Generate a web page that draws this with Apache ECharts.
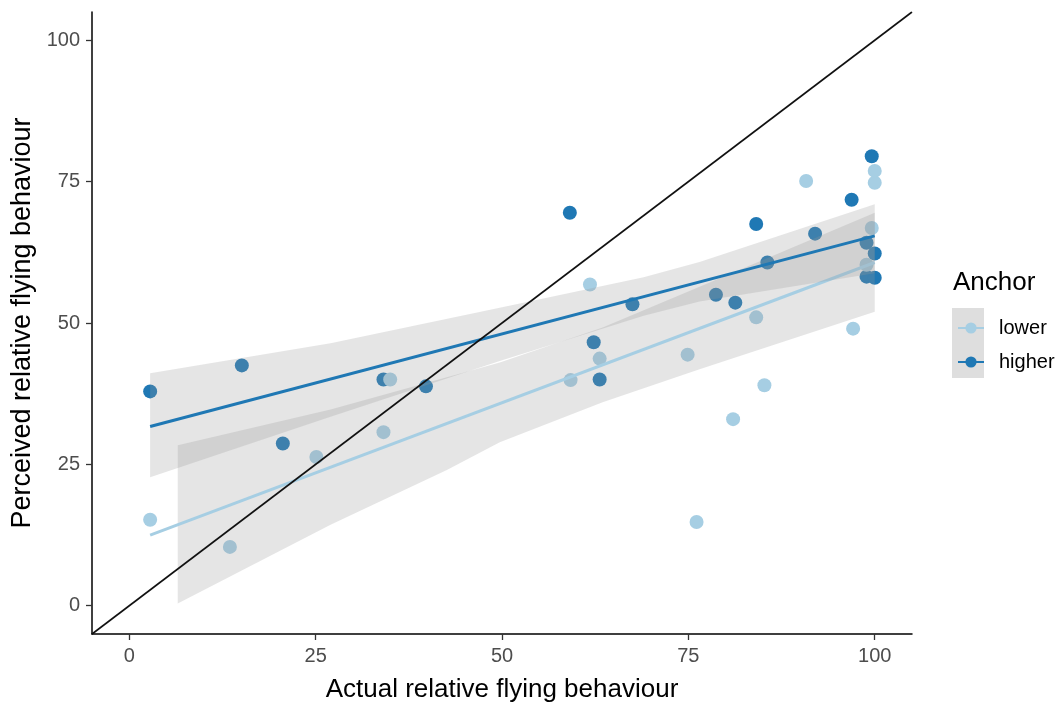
<!DOCTYPE html>
<html>
<head>
<meta charset="utf-8">
<script src="https://cdn.jsdelivr.net/npm/echarts@6/dist/echarts.min.js"></script>
<style>html,body{margin:0;padding:0;background:#fff}#c{width:1057px;height:706px}</style>
</head>
<body>
<div id="c"></div>
<script>
// ---- data ----
const tickValues = [0, 25, 50, 75, 100];
const groups = ['lower', 'higher'];

const lowerX = [2.8, 13.5, 25.1, 34.1, 35.0, 59.2, 61.8, 63.1, 74.9, 76.1, 81.0, 84.1, 85.2, 90.8, 97.1, 99.6, 100, 100, 98.9];
const lowerY = [15.2, 10.4, 26.3, 30.7, 40.0, 39.9, 56.8, 43.7, 44.4, 14.8, 33.0, 51.0, 39.0, 75.1, 49.0, 66.8, 76.9, 74.8, 60.3];

const higherX = [2.8, 15.1, 20.6, 34.1, 39.8, 59.1, 62.3, 63.1, 67.5, 78.7, 81.3, 84.1, 85.6, 92.0, 96.9, 98.9, 98.9, 99.6, 100, 100];
const higherY = [37.9, 42.5, 28.7, 40.0, 38.8, 69.5, 46.6, 40.0, 53.3, 55.0, 53.6, 67.5, 60.7, 65.8, 71.8, 64.2, 58.2, 79.5, 62.3, 58.0];

// fitted lines (endpoints)
const lowerFitX = [2.8, 100];
const lowerFitY = [12.5, 60.7];
const higherFitX = [2.8, 100];
const higherFitY = [31.7, 65.4];

// confidence bands
const lowerBandX = [6.5, 27, 42.6, 49.7, 63.5, 76.5, 100];
const lowerBandLo = [0.4, 14.3, 24.0, 28.9, 36.0, 41.8, 52.0];
const lowerBandHi = [28.4, 34.7, 40.4, 43.0, 49.2, 56.4, 69.5];

const higherBandX = [2.8, 27, 49.7, 69, 76.5, 100];
const higherBandLo = [22.7, 33.4, 43.3, 51.3, 53.8, 58.8];
const higherBandHi = [41.1, 46.4, 52.7, 58.1, 60.8, 71.0];

// identity line y = x
const diagX = [-5, 105];
const diagY = [-5, 105];

// ---- chart ----
const FONT = "'Liberation Sans', Arial, sans-serif";
const colLower = '#a6cee3';
const colHigher = '#1f78b4';
const bandFill = 'rgba(153,153,153,0.25)';

function pairs(xs, ys) { return xs.map((x, i) => [x, ys[i]]); }

function bandSeries(xs, los, his, z) {
  return {
    type: 'custom',
    z: z,
    silent: true,
    clip: true,
    data: xs.map((x, i) => [x, los[i], his[i]]),
    encode: { x: 0, y: [1, 2] },
    renderItem: function (params, api) {
      if (params.dataIndex !== 0) return;
      const pts = [];
      for (let i = 0; i < xs.length; i++) pts.push(api.coord([xs[i], his[i]]));
      for (let i = xs.length - 1; i >= 0; i--) pts.push(api.coord([xs[i], los[i]]));
      return { type: 'polygon', shape: { points: pts }, style: { fill: bandFill } };
    }
  };
}

const axisCommon = {
  type: 'value',
  min: -5,
  max: 105,
  splitLine: { show: false },
  axisLine: { show: true, onZero: false, lineStyle: { color: '#000', width: 1.5 } },
  axisTick: { show: true, customValues: tickValues, length: 6, lineStyle: { color: '#333', width: 1.3 } },
  axisLabel: { customValues: tickValues, color: '#4d4d4d', fontSize: 20, fontFamily: FONT, margin: 12 },
  nameLocation: 'middle'
};

const chart = echarts.init(document.getElementById('c'), null, { renderer: 'canvas' });
chart.setOption({
  animation: false,
  backgroundColor: '#fff',
  grid: { left: 92, right: 145, top: 12, bottom: 72, containLabel: false, outerBoundsMode: 'none' },
  xAxis: Object.assign({}, axisCommon, {
    name: 'Actual relative flying behaviour',
    nameGap: 43,
    nameTextStyle: { color: '#000', fontSize: 26, fontFamily: FONT }
  }),
  yAxis: Object.assign({}, axisCommon, {
    name: 'Perceived relative flying behaviour',
    nameGap: 51,
    nameTextStyle: { color: '#000', fontSize: 27, fontFamily: FONT }
  }),
  legend: {
    data: groups,
    orient: 'vertical',
    left: 957,
    top: 318,
    padding: 0,
    itemWidth: 26,
    itemHeight: 14,
    itemGap: 14,
    selectedMode: false,
    textStyle: { fontSize: 20, color: '#000', fontFamily: FONT, padding: [0, 0, 0, 10] }
  },
  graphic: [
    { type: 'rect', left: 952, top: 308, shape: { width: 32, height: 70 }, style: { fill: '#dedede' }, z: -1, silent: true },
    { type: 'text', left: 953, top: 270, style: { text: 'Anchor', fontSize: 26, fontFamily: FONT, fill: '#000' }, silent: true }
  ],
  series: [
    { name: 'lower', type: 'line', z: 4, silent: true, data: pairs(lowerFitX, lowerFitY),
      symbol: 'circle', symbolSize: 14, showSymbol: false,
      lineStyle: { color: colLower, width: 3 }, itemStyle: { color: colLower } },
    { name: 'higher', type: 'line', z: 6, silent: true, data: pairs(higherFitX, higherFitY),
      symbol: 'circle', symbolSize: 14, showSymbol: false,
      lineStyle: { color: colHigher, width: 3 }, itemStyle: { color: colHigher } },
    { name: 'lower', type: 'scatter', z: 2, silent: true, data: pairs(lowerX, lowerY),
      symbolSize: 14, itemStyle: { color: colLower, opacity: 1 } },
    { name: 'higher', type: 'scatter', z: 1, silent: true, data: pairs(higherX, higherY),
      symbolSize: 14, itemStyle: { color: colHigher, opacity: 1 } },
    bandSeries(lowerBandX, lowerBandLo, lowerBandHi, 3),
    bandSeries(higherBandX, higherBandLo, higherBandHi, 5),
    { type: 'line', z: 7, silent: true, data: pairs(diagX, diagY), showSymbol: false, symbol: 'none',
      lineStyle: { color: '#111', width: 1.6 } }
  ]
});
</script>
</body>
</html>
